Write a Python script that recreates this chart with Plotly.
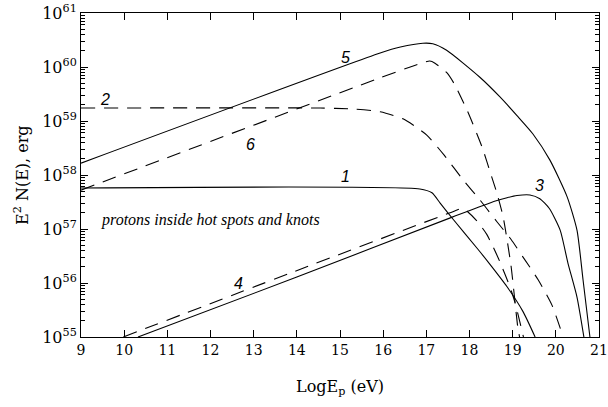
import plotly.graph_objects as go

# log10 of E^2 N(E)
c1_x = [9, 16.85, 17.13, 17.32, 17.62, 18.2, 18.47, 18.87, 19.24, 19.52]
c1_y = [57.76, 57.74, 57.67, 57.48, 57.18, 56.62, 56.35, 55.93, 55.47, 55.0]

c2_x = [9, 14.54, 15.35, 15.93, 16.46, 17.01, 17.43, 17.85, 18.24, 18.64, 18.96, 19.24, 19.59, 19.91, 20.17]
c2_y = [59.24, 59.24, 59.22, 59.17, 59.04, 58.74, 58.35, 57.91, 57.54, 57.13, 56.81, 56.48, 56.06, 55.59, 55.0]

c3_x = [10.32, 14.0, 17.6, 18.6, 18.87, 19.1, 19.4, 19.63, 19.85, 20.1, 20.28, 20.49, 20.65]
c3_y = [55.0, 56.11, 57.22, 57.52, 57.58, 57.62, 57.63, 57.56, 57.38, 56.98, 56.37, 55.74, 55.0]

c4_x = [9.98, 14.23, 17.55, 17.85, 18.17, 18.4, 18.54, 18.7, 18.94, 19.05, 19.25]
c4_y = [55.0, 56.3, 57.3, 57.38, 57.15, 56.9, 56.68, 56.4, 55.92, 55.65, 55.0]

c5_x = [9, 15.93, 16.4, 16.92, 17.15, 17.47, 18.24, 18.7, 19.1, 19.47, 19.86, 20.26, 20.49, 20.63, 20.79]
c5_y = [58.22, 60.26, 60.37, 60.44, 60.43, 60.31, 59.81, 59.45, 59.1, 58.76, 58.28, 57.6, 56.98, 56.06, 55.0]

c6_x = [9, 15.93, 16.8, 17.08, 17.2, 17.48, 17.66, 17.96, 18.29, 18.52, 18.64, 18.78, 18.96, 19.12, 19.16]
c6_y = [57.72, 59.8, 60.05, 60.11, 60.07, 59.89, 59.67, 59.17, 58.52, 57.95, 57.65, 57.22, 56.33, 55.17, 55.0]

x_ticks = list(range(9, 22))
y_decades = list(range(55, 62))

labels = ["5", "2", "6", "1", "3", "4"]
label_x = [15.12, 9.56, 12.92, 15.12, 19.63, 12.64]
label_y = [60.17, 59.39, 58.56, 57.98, 57.8, 56.0]

note_text = "protons inside hot spots and knots"
note_x, note_y = 12.01, 57.17

SOLID = "solid"
DASH = "14px,9px"

fig = go.Figure()
for xs, ys, dash in [(c1_x, c1_y, SOLID), (c2_x, c2_y, DASH), (c3_x, c3_y, SOLID),
                     (c4_x, c4_y, DASH), (c5_x, c5_y, SOLID), (c6_x, c6_y, DASH)]:
    fig.add_trace(go.Scatter(x=xs, y=[10.0 ** v for v in ys], mode="lines",
                             line=dict(color="black", width=1.1, dash=dash,
                                       shape="spline", smoothing=0.6),
                             hoverinfo="skip", showlegend=False, cliponaxis=True))

for t, lx, ly in zip(labels, label_x, label_y):
    fig.add_annotation(x=lx, y=ly, text="<i>" + t + "</i>", showarrow=False,
                       font=dict(family="Liberation Sans", size=16, color="black"))

fig.add_annotation(x=note_x, y=note_y, text="<i>" + note_text + "</i>", showarrow=False,
                   font=dict(family="Liberation Serif", size=16, color="black"))

serif = "DejaVu Serif"
fig.add_annotation(xref="paper", yref="paper", x=0.5, y=0, yshift=-50,
                   text="LogE<sub>p</sub> (eV)", showarrow=False, yanchor="middle",
                   font=dict(family=serif, size=16, color="black"))
fig.add_annotation(xref="paper", yref="paper", x=0, xshift=-60, y=0.5,
                   text="E<sup>2</sup> N(E), erg", showarrow=False, textangle=-90,
                   xanchor="center", font=dict(family=serif, size=16, color="black"))

minor_vals = [k * 10.0 ** d for d in range(55, 61) for k in range(2, 10)]

fig.update_layout(
    width=608, height=407,
    margin=dict(l=81, r=9, t=13, b=70, pad=0),
    paper_bgcolor="white", plot_bgcolor="white",
    xaxis=dict(range=[9, 21], tickmode="array", tickvals=x_ticks, automargin=False,
               ticklabeloverflow="allow",
               ticks="inside", ticklen=7, tickwidth=1, tickcolor="black",
               showline=True, linecolor="black", linewidth=1, mirror="ticks",
               showgrid=False, zeroline=False,
               tickfont=dict(family=serif, size=14, color="black")),
    yaxis=dict(type="log", range=[55, 61], tickmode="array", automargin=False,
               ticklabeloverflow="allow",
               tickvals=[10.0 ** d for d in y_decades],
               ticktext=["10<sup>%d</sup>" % d for d in y_decades],
               ticks="inside", ticklen=7, tickwidth=1, tickcolor="black",
               showline=True, linecolor="black", linewidth=1, mirror="ticks",
               showgrid=False, zeroline=False,
               minor=dict(tickmode="array", tickvals=minor_vals, ticks="inside",
                          ticklen=4, tickcolor="black", showgrid=False),
               tickfont=dict(family=serif, size=16, color="black")),
)

# remove the browser's default 8px page margin so the figure fills the window exactly
fig.write_html("out.html", config={"displayModeBar": False},
               post_script="document.body.style.margin='0px';document.body.style.overflow='hidden';")
